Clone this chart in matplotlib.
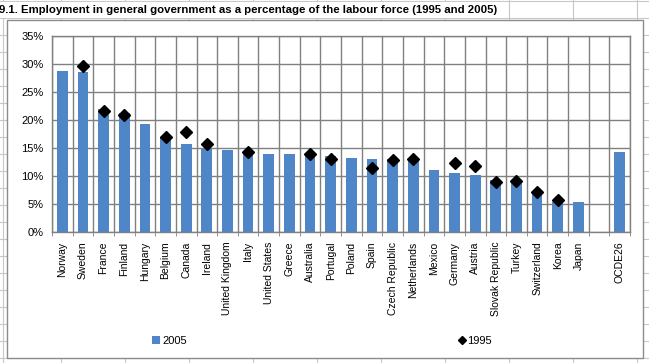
import numpy as np
import matplotlib
matplotlib.use("Agg")
import matplotlib.pyplot as plt
from matplotlib.patches import Rectangle
from matplotlib.lines import Line2D

plt.rcParams['font.family'] = ['Liberation Sans', 'DejaVu Sans']

countries = ["Norway", "Sweden", "France", "Finland", "Hungary", "Belgium", "Canada",
             "Ireland", "United Kingdom", "Italy", "United States", "Greece", "Australia",
             "Portugal", "Poland", "Spain", "Czech Republic", "Netherlands", "Mexico",
             "Germany", "Austria", "Slovak Republic", "Turkey", "Switzerland", "Korea",
             "Japan", "", "OCDE26"]
nan = np.nan
y2005 = [28.8, 28.5, 21.9, 21.3, 19.2, 16.9, 15.7, 14.9, 14.6, 14.2, 14.0, 14.0, 13.7,
         13.5, 13.3, 13.0, 13.0, 12.8, 11.1, 10.5, 10.2, 9.3, 9.2, 7.0, 5.4, 5.3, nan, 14.3]
y1995 = [nan, 29.6, 21.6, 20.9, nan, 16.9, 17.9, 15.8, nan, 14.3, nan, nan, 13.9,
         13.0, nan, 11.4, 12.8, 13.1, nan, 12.3, 11.7, 8.9, 9.1, 7.1, 5.7, nan, nan, nan]
yticks = [0, 5, 10, 15, 20, 25, 30, 35]

W, H = 649, 363
fig = plt.figure(figsize=(W / 100, H / 100), dpi=100)

# spreadsheet behind the chart
bg = fig.add_axes([0, 0, 1, 1])
bg.set_xlim(0, W)
bg.set_ylim(H, 0)
bg.axis('off')
grid_c = '#c8c8c8'
for x in [3, 61, 125, 189, 253, 317, 381, 445, 509, 573, 637]:
    bg.add_line(Line2D([x, x], [0, H], color=grid_c, lw=0.8, zorder=1))
for y in range(1, H, 17):
    bg.add_line(Line2D([0, W], [y, y], color=grid_c, lw=0.8, zorder=1))
bg.add_patch(Rectangle((0, 2), 505, 15.5, facecolor='white', edgecolor='none', zorder=2))
bg.text(-1, 10, "9.1. Employment in general government as a percentage of the labour force (1995 and 2005)",
        fontsize=8.2, fontweight='bold', va='center', ha='left', zorder=3)
bg.add_patch(Rectangle((7, 20), 636, 338, facecolor='white', edgecolor='#8c8c8c', lw=1, zorder=3))

# chart
ax = fig.add_axes([52 / W, (H - 232) / H, 578 / W, 196 / H])
x = np.arange(len(countries))
ax.bar(x, y2005, width=0.52, color='#4f86c8', zorder=2, label='2005')
ax.plot(x, y1995, linestyle='none', marker='D', markersize=6.5, color='black', zorder=3,
        label='1995')
ax.set_xlim(-0.5, len(countries) - 0.5)
ax.set_ylim(0, 35)
ax.set_yticks(yticks)
ax.set_yticklabels([f"{v}%" for v in yticks], fontsize=8)
ax.set_xticks(x)
ax.set_xticklabels(countries, rotation=90, fontsize=7.5)
ax.set_xticks(np.arange(len(countries) + 1) - 0.5, minor=True)
ax.tick_params(axis='x', which='major', length=0, pad=7)
ax.tick_params(axis='x', which='minor', length=3, color='#808080')
ax.tick_params(axis='y', length=0, pad=6)
ax.grid(True, axis='y', color='#808080', lw=1, zorder=0)
ax.grid(True, axis='x', which='minor', color='#808080', lw=1, zorder=0)
ax.set_axisbelow(True)
for s in ax.spines.values():
    s.set_color('#808080')
    s.set_linewidth(1)

# legend
handles, labels = ax.get_legend_handles_labels()
fig.legend([handles[1]], ['2005'], loc='center left', bbox_to_anchor=(142 / W, 1 - 341 / H),
           frameon=False, fontsize=8, handlelength=0.7, handletextpad=0.2)
fig.legend([handles[0]], ['1995'], loc='center left', bbox_to_anchor=(448 / W, 1 - 341 / H),
           frameon=False, fontsize=8, handlelength=0.7, handletextpad=0.1, markerscale=0.7)

fig.savefig('out.png', dpi=100)
